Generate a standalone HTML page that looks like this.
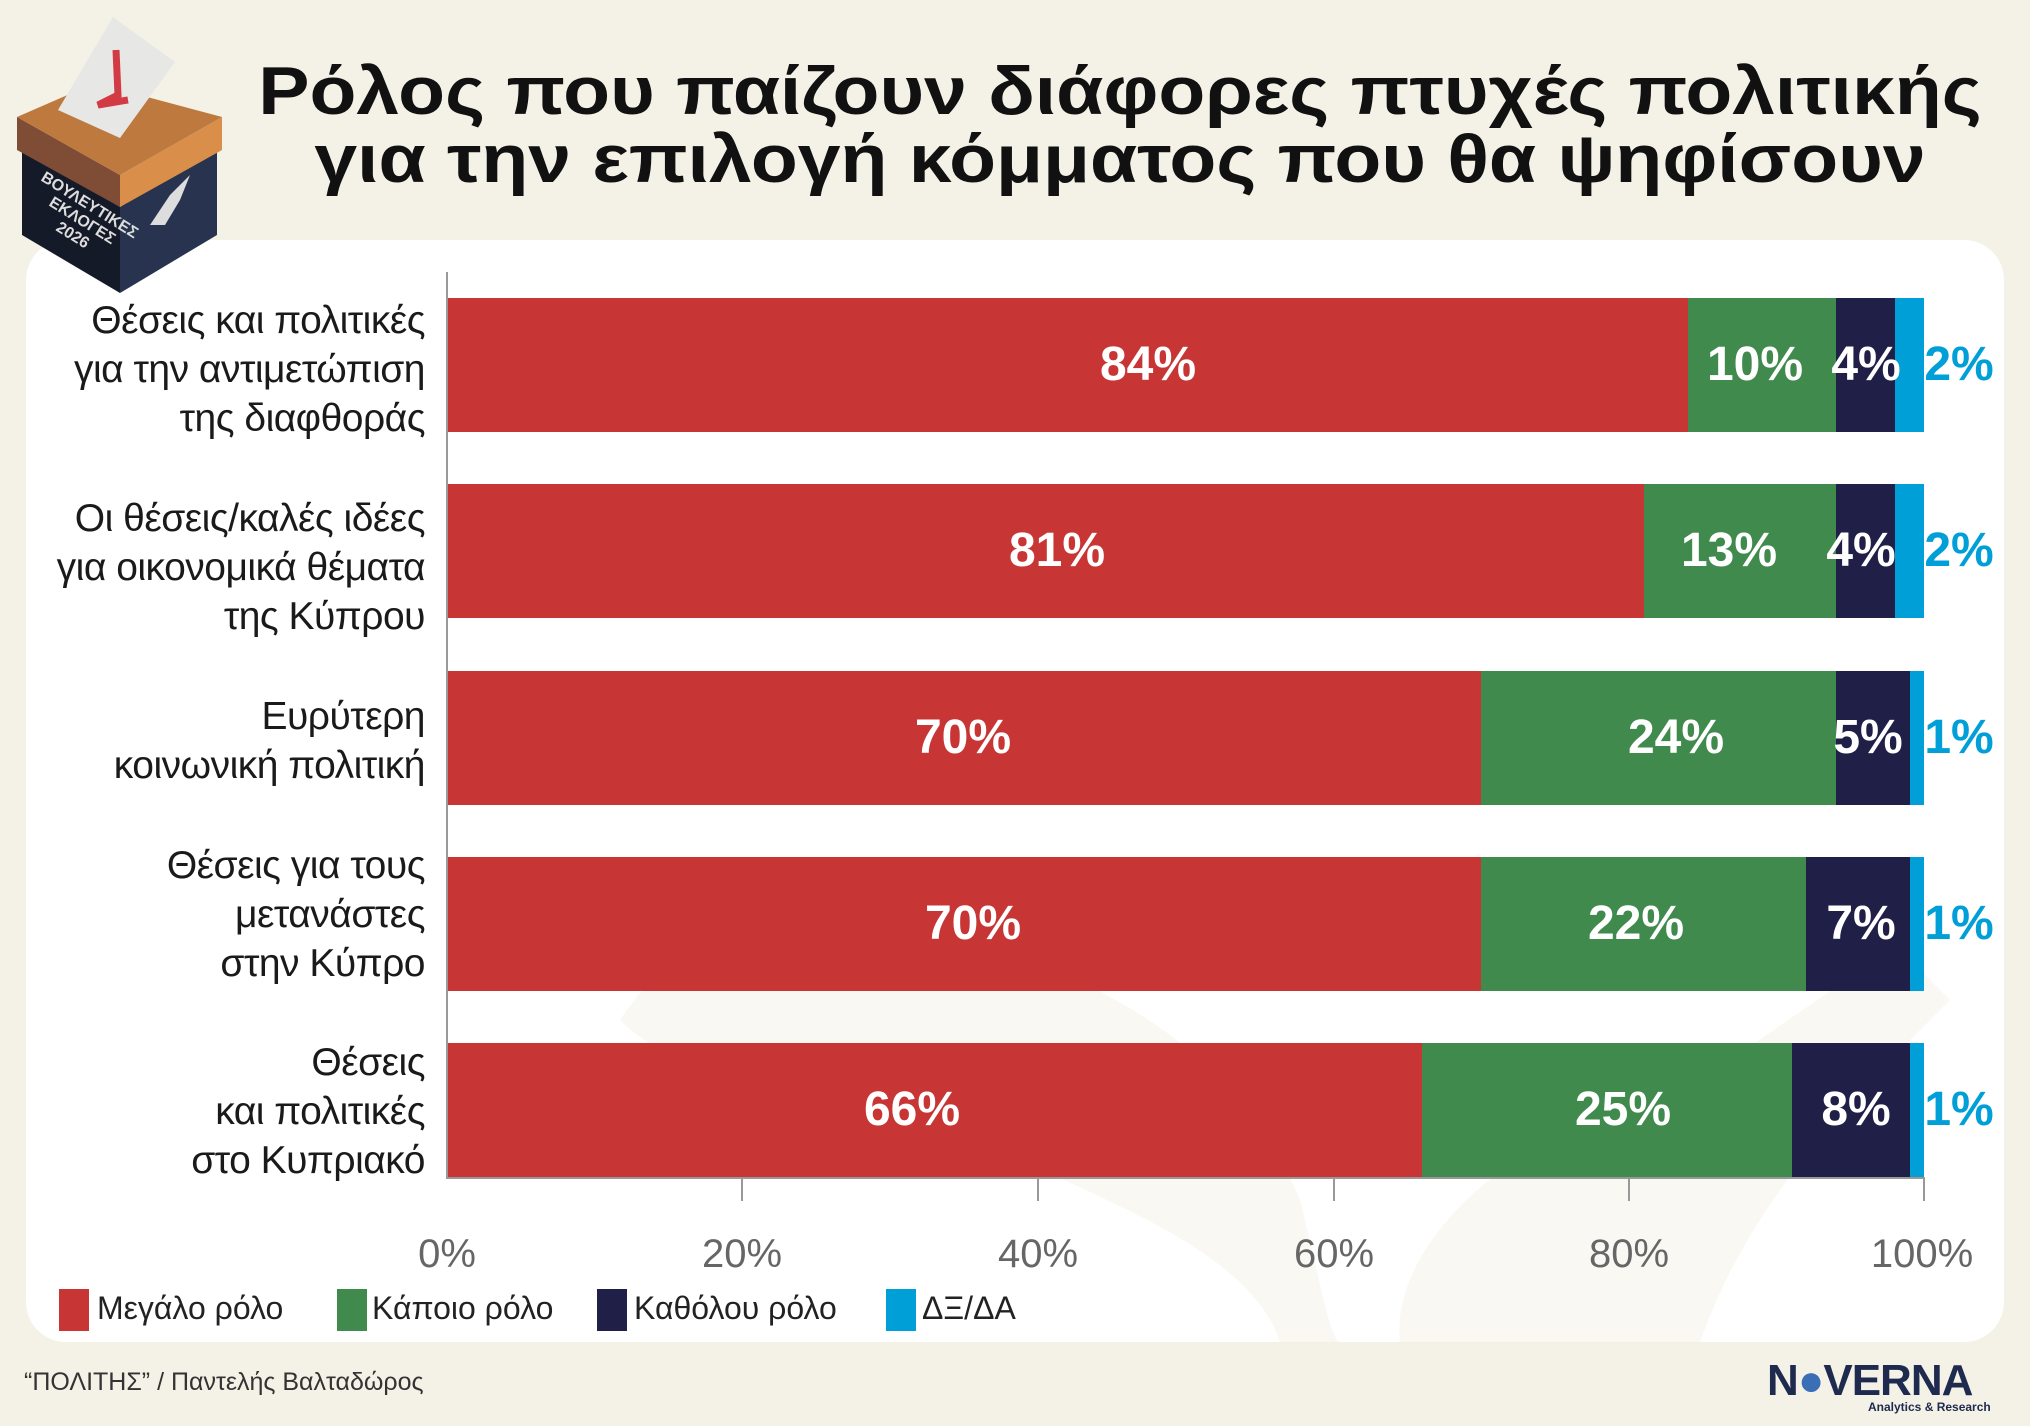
<!DOCTYPE html>
<html><head><meta charset="utf-8"><style>
body{margin:0;width:2030px;height:1426px;background:#f4f1e6;position:relative;overflow:hidden;font-family:"Liberation Sans","DejaVu Sans",sans-serif}
.a{position:absolute}
.title{left:230px;width:1780px;text-align:center;font-weight:bold;font-size:68px;color:#111;line-height:68px;transform:scaleX(1.13);transform-origin:center}
.lab{right:1605px;text-align:right;font-size:39px;color:#1a1a1a;line-height:49px;width:440px;letter-spacing:-0.5px}
.bar{position:absolute;height:134px}
.v{position:absolute;font-weight:bold;font-size:48px;color:#fff;transform:translateX(-50%);line-height:134px}
.tk{position:absolute;top:1232px;font-size:40px;color:#666;transform:translateX(-50%)}
.lg{position:absolute;top:1289px;width:30px;height:42px}
.lt{position:absolute;top:1290px;font-size:32px;color:#222}
</style></head><body>
<div class="a" style="left:26px;top:240px;width:1978px;height:1102px;background:#fff;border-radius:40px"></div>
<svg class="a" style="left:0;top:0" width="2030" height="1426">
<path d="M620 1020 C700 900 850 880 1000 950 C1150 1000 1250 1080 1300 1200 C1320 1280 1330 1340 1340 1342 L1400 1342 C1390 1250 1500 1150 1600 1120 C1700 1100 1800 1000 1900 950 L1950 1000 C1850 1100 1750 1200 1700 1342 L1280 1342 C1250 1250 1100 1200 1000 1150 C900 1100 700 1100 620 1020Z" fill="#f4f1e6" opacity="0.5"/>
</svg>
<svg class="a" style="left:0;top:0" width="260" height="300">
<polygon points="22,148 120,207 120,293 22,235" fill="#141a28"/>
<polygon points="120,207 217,145 217,235 120,293" fill="#27334f"/>
<polygon points="17,117 120,175 120,207 17,150" fill="#7f4c35"/>
<polygon points="120,175 222,117 222,150 120,207" fill="#d98e4a"/>
<polygon points="17,117 95,83 222,117 120,175" fill="#bd793e"/>
<polygon points="58,110 113,17 175,62 120,138" fill="#e7e7e6"/>
<path d="M116 50 L118 95 L98 105 L128 100" stroke="#d23b44" stroke-width="7" fill="none"/>
<text x="40" y="180" transform="rotate(32 40 180)" font-size="16" font-weight="bold" fill="#ddd">ΒΟΥΛΕΥΤΙΚΕΣ</text>
<text x="48" y="205" transform="rotate(32 48 205)" font-size="16" font-weight="bold" fill="#ddd">ΕΚΛΟΓΕΣ</text>
<text x="55" y="230" transform="rotate(32 55 230)" font-size="16" font-weight="bold" fill="#ddd">2026</text>
<path d="M150 225 L170 195 L190 175 L180 200 L165 225 Z" fill="#ddd"/>
</svg>
<div class="a title" style="top:57px">Ρόλος που παίζουν διάφορες πτυχές πολιτικής</div>
<div class="a title" style="top:125px">για την επιλογή κόμματος που θα ψηφίσουν</div>
<div class="a" style="left:446px;top:272px;width:2px;height:907px;background:#999"></div>
<div class="a" style="left:446px;top:1177px;width:1479px;height:2px;background:#999"></div>
<div class="a" style="left:741px;top:1177px;width:2px;height:24px;background:#999"></div>
<div class="a" style="left:1037px;top:1177px;width:2px;height:24px;background:#999"></div>
<div class="a" style="left:1333px;top:1177px;width:2px;height:24px;background:#999"></div>
<div class="a" style="left:1628px;top:1177px;width:2px;height:24px;background:#999"></div>
<div class="a" style="left:1923px;top:1177px;width:2px;height:24px;background:#999"></div>
<div class="tk" style="left:447px">0%</div><div class="tk" style="left:742px">20%</div><div class="tk" style="left:1038px">40%</div><div class="tk" style="left:1334px">60%</div><div class="tk" style="left:1629px">80%</div><div class="tk" style="left:1922px">100%</div>
<div class="a lab" style="top:296px">Θέσεις και πολιτικές<br>για την αντιμετώπιση<br>της διαφθοράς</div>
<div class="a lab" style="top:494px">Οι θέσεις/καλές ιδέες<br>για οικονομικά θέματα<br>της Κύπρου</div>
<div class="a lab" style="top:692px">Ευρύτερη<br>κοινωνική πολιτική</div>
<div class="a lab" style="top:841px">Θέσεις για τους<br>μετανάστες<br>στην Κύπρο</div>
<div class="a lab" style="top:1038px">Θέσεις<br>και πολιτικές<br>στο Κυπριακό</div>
<div class="a" style="left:448px;top:298px;width:1476px;height:134px">
<div class="bar" style="left:0;width:1240px;background:#c73635"></div><div class="bar" style="left:1240px;width:148px;background:#3f8a4c"></div><div class="bar" style="left:1388px;width:59px;background:#1f1f47"></div><div class="bar" style="left:1447px;width:29px;background:#009fd8"></div>
<div class="v" style="left:700px">84%</div><div class="v" style="left:1307px">10%</div><div class="v" style="left:1418px">4%</div><div class="v" style="left:1511px;color:#009fd8">2%</div></div>
<div class="a" style="left:448px;top:484px;width:1476px;height:134px">
<div class="bar" style="left:0;width:1196px;background:#c73635"></div><div class="bar" style="left:1196px;width:192px;background:#3f8a4c"></div><div class="bar" style="left:1388px;width:59px;background:#1f1f47"></div><div class="bar" style="left:1447px;width:29px;background:#009fd8"></div>
<div class="v" style="left:609px">81%</div><div class="v" style="left:1281px">13%</div><div class="v" style="left:1413px">4%</div><div class="v" style="left:1511px;color:#009fd8">2%</div></div>
<div class="a" style="left:448px;top:671px;width:1476px;height:134px">
<div class="bar" style="left:0;width:1033px;background:#c73635"></div><div class="bar" style="left:1033px;width:355px;background:#3f8a4c"></div><div class="bar" style="left:1388px;width:74px;background:#1f1f47"></div><div class="bar" style="left:1462px;width:14px;background:#009fd8"></div>
<div class="v" style="left:515px">70%</div><div class="v" style="left:1228px">24%</div><div class="v" style="left:1420px">5%</div><div class="v" style="left:1511px;color:#009fd8">1%</div></div>
<div class="a" style="left:448px;top:857px;width:1476px;height:134px">
<div class="bar" style="left:0;width:1033px;background:#c73635"></div><div class="bar" style="left:1033px;width:325px;background:#3f8a4c"></div><div class="bar" style="left:1358px;width:104px;background:#1f1f47"></div><div class="bar" style="left:1462px;width:14px;background:#009fd8"></div>
<div class="v" style="left:525px">70%</div><div class="v" style="left:1188px">22%</div><div class="v" style="left:1413px">7%</div><div class="v" style="left:1511px;color:#009fd8">1%</div></div>
<div class="a" style="left:448px;top:1043px;width:1476px;height:134px">
<div class="bar" style="left:0;width:974px;background:#c73635"></div><div class="bar" style="left:974px;width:370px;background:#3f8a4c"></div><div class="bar" style="left:1344px;width:118px;background:#1f1f47"></div><div class="bar" style="left:1462px;width:14px;background:#009fd8"></div>
<div class="v" style="left:464px">66%</div><div class="v" style="left:1175px">25%</div><div class="v" style="left:1408px">8%</div><div class="v" style="left:1511px;color:#009fd8">1%</div></div>
<div class="lg" style="left:59px;background:#c73635"></div><div class="lt" style="left:97px">Μεγάλο ρόλο</div>
<div class="lg" style="left:337px;background:#3f8a4c"></div><div class="lt" style="left:372px">Κάποιο ρόλο</div>
<div class="lg" style="left:597px;background:#1f1f47"></div><div class="lt" style="left:634px">Καθόλου ρόλο</div>
<div class="lg" style="left:886px;background:#009fd8"></div><div class="lt" style="left:922px">ΔΞ/ΔΑ</div>
<div class="a" style="left:24px;top:1368px;font-size:25px;color:#333">“ΠΟΛΙΤΗΣ” / Παντελής Βαλταδώρος</div>
<div class="a" style="left:1767px;top:1356px;font-size:44px;font-weight:bold;color:#1e2a4e;letter-spacing:-1px">N<span style="color:#3a6fb5">●</span>VERNA</div>
<div class="a" style="left:1868px;top:1400px;font-size:12px;font-weight:bold;color:#1e2a4e">Analytics &amp; Research</div>
</body></html>
